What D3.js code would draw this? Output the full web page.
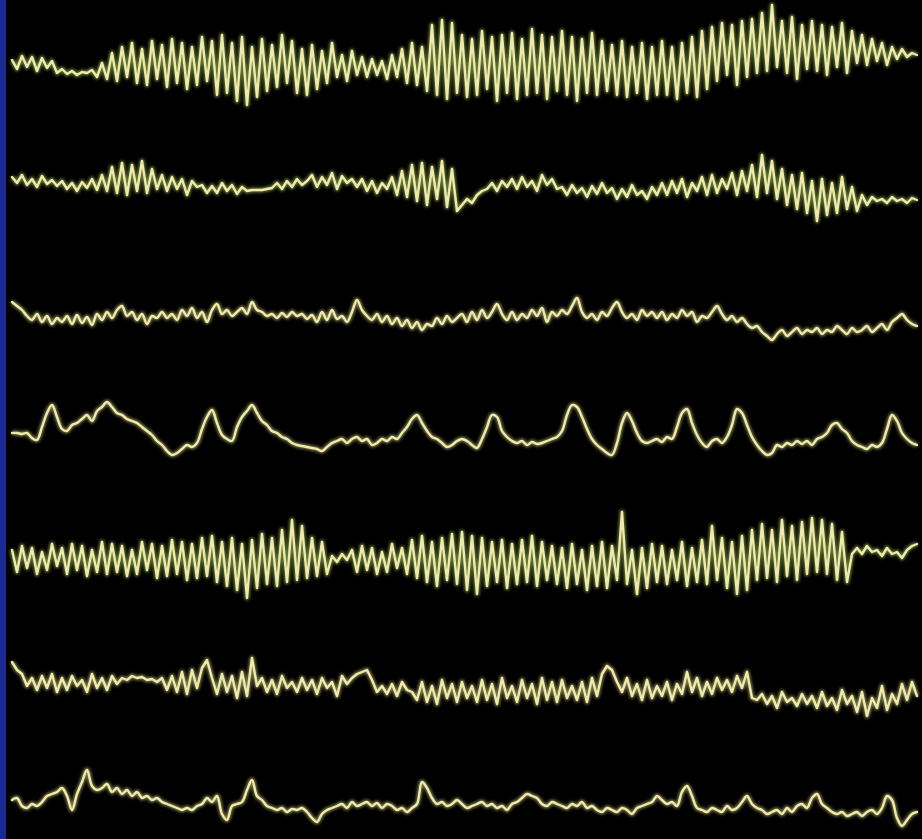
<!DOCTYPE html>
<html lang="en">
<head>
<meta charset="UTF-8">
<script src="https://d3js.org/d3.v7.min.js"></script>
<title>EEG traces</title>
<style>
    body { margin: 0; background: #000; }
    svg { display: block; }
</style>
</head>
<body>
<div id="chart"></div>
<script>
// seven channels, offsets every 5px (positive = up)
const ch1 = [5,-4,9,-2,8,-6,7,-3,4,-8, -4,-9,-6,-10,-7,-8,-5,-12,2,-14,
    12,-16,18,-12,22,-18,16,-20,24,-14, 20,-22,26,-18,22,-24,18,-20,28,-16,
    24,-30,30,-28,22,-36,28,-40,18,-32, 26,-26,20,-22,30,-18,24,-28,16,-30,
    20,-24,14,-18,22,-12,10,-16,14,-10, 8,-12,6,-10,4,-14,10,-12,16,-18,
    22,-20,18,-26,40,-30,45,-34,42,-28, 30,-32,26,-30,34,-24,28,-36,30,-28,
    32,-34,26,-30,36,-28,30,-34,28,-26, 34,-30,28,-36,26,-28,32,-30,24,-26,
    20,-30,24,-32,18,-28,22,-34,18,-30, 24,-30,18,-34,22,-28,28,-32,34,-24,
    38,-16,42,-10,40,-20,44,-12,46,-8, 52,-6,60,-2,44,-8,48,-14,40,-4,
    44,-6,40,-10,38,-2,42,-8,34,2, 30,0,26,4,22,0,18,6,16,8, 12,10];
const ch2 = [8,2,10,0,6,-2,9,1,5,-1, 4,-4,2,-6,3,-3,6,-5,10,-6,
    18,-8,22,-10,20,-6,24,-8,16,-4, 10,-6,8,-4,6,-10,4,-2,0,-8,
    -1,-8,2,-6,0,-9,-2,-6,-5,-5, -5,-4,-3,2,-4,4,-2,6,0,4,
    10,-2,8,0,12,-4,9,2,6,-2, 6,-6,4,-8,2,-4,8,-10,14,-12,
    20,-16,22,-20,18,-14,24,-22,16,-26, -20,-14,-18,-10,-6,-4,2,-6,4,-2,
    6,-4,8,-2,4,-6,10,0,6,-4, -2,-10,0,-8,-3,-12,-1,-9,2,-8,
    -3,-14,-4,-12,0,-10,-6,-14,-2,-10, 2,-10,4,-8,6,-12,2,-6,8,-10,
    10,-8,6,-4,12,-10,14,-6,20,-12, 30,-8,24,-14,16,-20,10,-24,12,-28,
    4,-36,6,-30,2,-28,8,-24,-2,-26, -10,-20,-12,-16,-14,-18,-12,-16,-14,-18, -13,-15];
const ch3 = [16,12,8,2,-2,4,-4,2,-6,0, -4,2,-6,3,-5,1,-7,4,-2,6,
    0,8,12,2,6,-2,4,-6,2,0, 6,0,4,-2,8,2,10,0,6,-4,
    8,14,4,8,2,6,10,4,16,8, 6,2,4,0,5,1,6,2,4,-1,
    3,-4,6,-2,8,-1,2,-4,6,18, 8,2,-2,4,-4,2,-6,0,-8,-2,
    -10,-4,-12,-6,-8,0,-6,2,-4,0, 4,-4,6,-2,8,0,6,14,4,-2,
    6,-2,4,0,8,2,10,-4,6,2, 8,4,12,20,6,0,4,-2,6,2,
    10,16,6,0,4,-2,8,2,6,0, 6,-2,4,0,8,2,6,-4,2,0,
    6,12,4,-2,2,-4,0,-6,-10,-8, -14,-18,-22,-16,-12,-18,-14,-10,-16,-12,
    -14,-10,-16,-12,-14,-8,-12,-16,-10,-14, -12,-8,-14,-10,-6,-12,-4,0,4,-2, -6,-8];
const ch4 = [2,2,1,2,-3,-5,8,22,30,18, 6,4,10,12,16,20,14,24,28,33,
    28,22,20,16,14,12,8,4,0,-6, -10,-16,-20,-18,-14,-10,-12,-8,6,18,
    25,12,0,-4,-6,8,18,24,30,22, 14,10,4,2,-2,-4,-8,-10,-11,-12,
    -13,-14,-16,-12,-8,-6,-4,-8,-4,-2, -6,-4,-10,-8,-4,-6,-2,-4,2,8,
    16,20,12,4,-2,-4,-8,-12,-10,-6, -4,-6,-10,-13,-4,8,20,18,4,-2,
    -6,-8,-6,-10,-7,-9,-8,-6,-4,-2, 4,20,30,28,18,6,-4,-10,-14,-18,
    -20,-8,12,22,14,2,-6,-8,-6,-4, -7,-2,-4,8,22,26,12,0,-8,-12,
    -6,-4,-8,-2,10,26,22,10,-2,-10, -16,-20,-18,-10,-12,-8,-10,-6,-9,-6,
    -10,-4,-2,2,10,12,6,2,-6,-10, -12,-14,-10,-12,-8,6,20,14,2,-4, -8,-10];
const ch5 = [10,-12,14,-8,12,-14,8,-10,16,-6, 12,-14,16,-10,14,-16,10,-12,18,-14,
    16,-12,14,-16,10,-14,18,-10,16,-18, 14,-16,20,-14,18,-20,16,-18,22,-16,
    24,-22,18,-26,22,-30,16,-38,20,-28, 26,-24,22,-26,30,-22,40,-20,34,-18,
    22,-16,18,-14,4,-2,6,0,10,-12, 14,-10,12,-14,8,-12,16,-8,12,-14,
    20,-18,24,-22,18,-26,22,-20,26,-24, 28,-30,24,-34,22,-26,18,-22,20,-28,
    16,-24,20,-22,24,-26,18,-20,14,-24, 12,-28,16,-24,10,-30,14,-26,18,-28,
    14,-20,48,-24,10,-34,12,-28,16,-22, 14,-24,10,-20,18,-26,12,-22,20,-24,
    34,-20,22,-28,18,-34,24,-30,30,-20, 36,-18,30,-22,40,-16,34,-20,38,-14,
    42,-12,40,-14,36,-20,28,-22,6,12, 6,14,8,10,4,12,6,8,2,10, 14,16];
const ch6 = [26,18,14,2,10,-2,12,0,14,-4, 10,-2,12,2,8,-4,14,0,10,-2,
    12,4,10,8,12,10,11,8,9,6, 10,-2,12,-4,16,-6,18,0,20,28,
    10,-6,14,-4,12,-10,16,-8,30,2, 10,-4,8,-6,12,0,6,-4,10,-2,
    8,-6,10,0,6,-8,12,4,10,14, 16,18,8,-4,2,-6,4,-8,6,-2,
    -4,-12,6,-14,2,-16,8,-10,4,-14, 6,-10,2,-14,8,-12,4,-16,10,-10,
    2,-14,8,-10,4,-16,10,-12,6,-14, 8,-10,2,-12,6,-14,10,-8,14,22,
    18,6,-4,10,-8,4,-12,8,-10,2, -8,6,-12,4,-6,16,-4,10,-8,6,
    -6,10,-2,8,-4,12,0,16,-10,-12, -6,-16,-8,-20,-4,-14,-10,-18,-6,-16,
    -8,-20,-4,-18,-10,-22,-2,-16,-8,-24, -4,-28,-10,-20,2,-22,-6,-16,4,-12, 6,-8];
const ch7 = [0,2,-6,-8,-4,-6,-2,4,6,8, 12,4,-10,6,18,30,14,10,12,16,
    8,12,6,10,4,8,2,4,0,2, -2,-4,-6,-8,-10,-8,-10,-6,-4,2,
    -2,4,-14,-20,-6,-4,-2,10,20,4, 0,-6,-8,-10,-8,-12,-9,-10,-8,-12,
    -18,-22,-14,-10,-8,-6,-4,-8,-2,-6, -4,-2,-6,-3,-8,-4,-6,-10,-8,-12,
    -8,-4,18,12,2,-4,-2,-6,-4,0, -4,-8,-6,-4,-2,-6,-4,-8,-6,-10,
    -4,-2,2,6,4,2,-4,-6,-2,-4, -6,-8,-4,-6,-2,-8,-6,-10,-12,-8,
    -10,-12,-8,-10,-14,-8,-6,-4,-2,4, 0,-4,-2,-6,8,14,4,-8,-10,-12,
    -8,-10,-12,-6,-10,-8,-2,4,-4,-8, -10,-14,-12,-10,-14,-8,-12,-6,-4,-8,
    2,6,-4,-8,-12,-14,-12,-16,-14,-12, -16,-12,-10,-14,-8,4,0,-18,-26,-20, -14,-12];

const channels = [ch1, ch2, ch3, ch4, ch5, ch6, ch7];
const baselines = [65, 185, 318, 435, 560, 688, 800];

const width = 922, height = 839;

const svg = d3.select("#chart").append("svg")
    .attr("width", width)
    .attr("height", height)
    .style("background", "#000");

const defs = svg.append("defs");
const glow = defs.append("filter").attr("id", "glow")
    .attr("x", "-5%").attr("y", "-50%").attr("width", "110%").attr("height", "200%");
glow.append("feGaussianBlur").attr("stdDeviation", 1.8);

const soft = defs.append("filter").attr("id", "soft")
    .attr("x", "-5%").attr("y", "-50%").attr("width", "110%").attr("height", "200%");
soft.append("feGaussianBlur").attr("stdDeviation", 0.5);

// blue edge on the left
svg.append("rect")
    .attr("x", 0).attr("y", 0)
    .attr("width", 6).attr("height", height)
    .attr("fill", "#1b2a92");

channels.forEach((data, i) => {
    const x = d3.scaleLinear().domain([0, data.length - 1]).range([12, 917]);
    const y = d3.scaleLinear().domain([-50, 50])
        .range([baselines[i] + 50, baselines[i] - 50]);

    // sharp spikes for the fast channels, a little rounding for the slow ones
    const dense = [0, 1, 4, 5].includes(i);
    const line = d3.line()
        .x((d, j) => x(j))
        .y(d => y(d))
        .curve(dense ? d3.curveLinear : d3.curveCatmullRom.alpha(0.5));

    svg.append("path")
        .datum(data)
        .attr("d", line)
        .attr("fill", "none")
        .attr("stroke", [0, 1, 4].includes(i) ? "#a6c85c" : "#c9c77a")
        .attr("stroke-width", 5)
        .attr("opacity", 0.6)
        .attr("stroke-linejoin", "round")
        .attr("filter", "url(#glow)");

    svg.append("path")
        .datum(data)
        .attr("d", line)
        .attr("fill", "none")
        .attr("stroke", "#efe9ab")
        .attr("stroke-width", 2.4)
        .attr("stroke-linejoin", "round")
        .attr("stroke-linecap", "round")
        .attr("filter", "url(#soft)");
});
</script>
</body>
</html>
